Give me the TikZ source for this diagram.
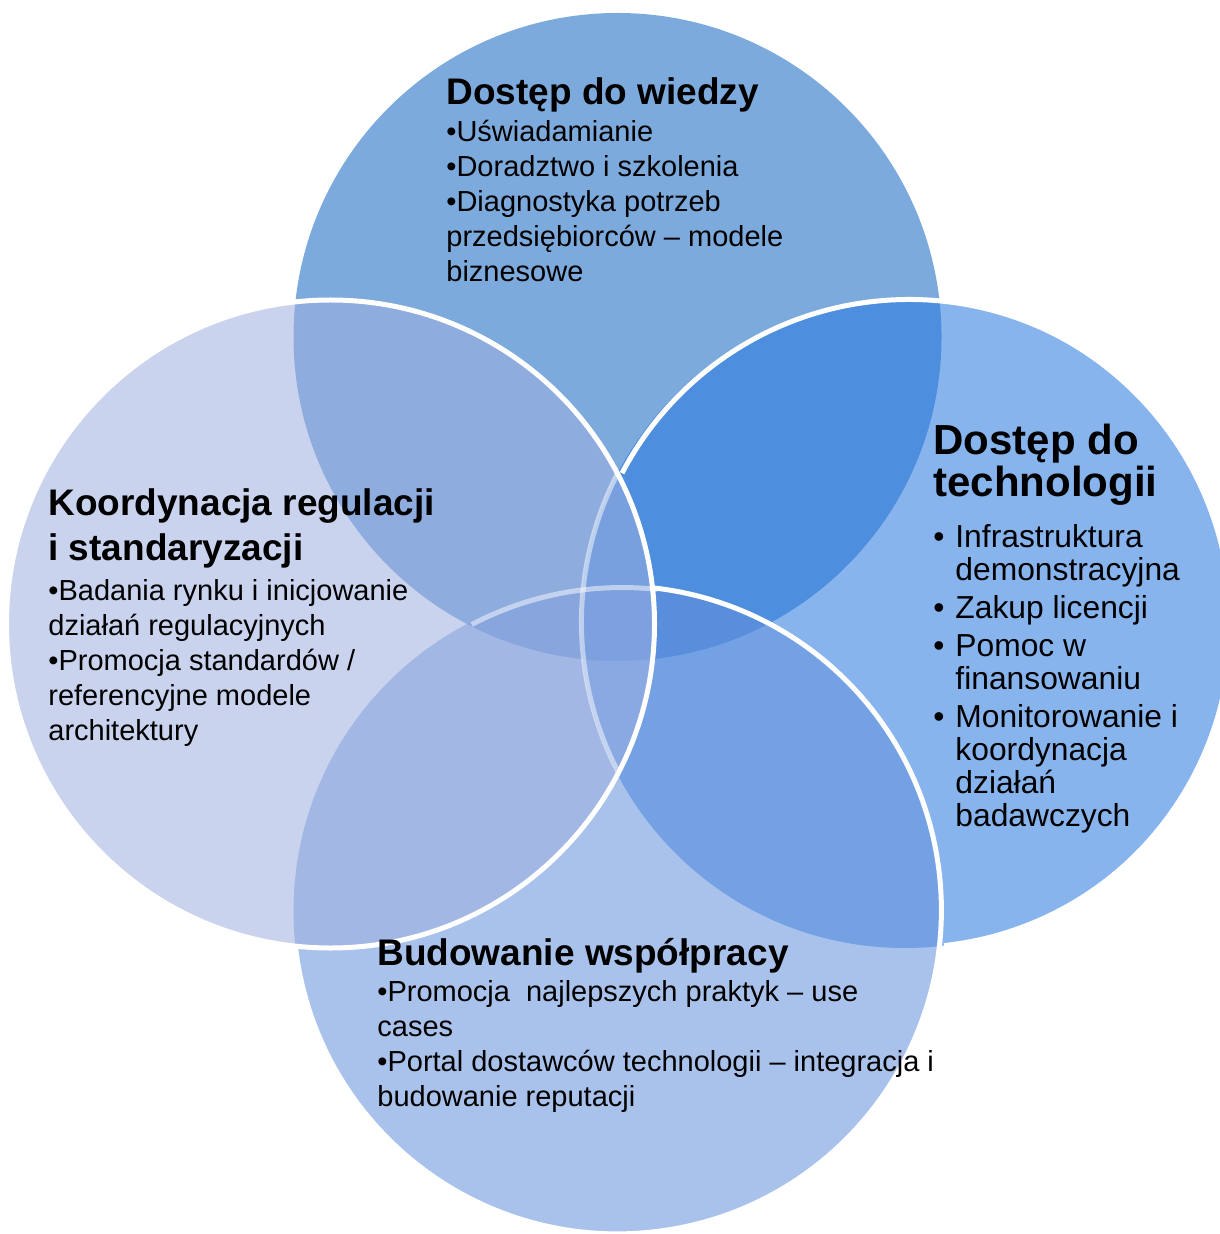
\documentclass[tikz,border=0pt]{standalone}
\usepackage{xcolor}
\usepackage{fontspec}
\setmainfont{Liberation Sans}
\usepackage{tikz}
\usetikzlibrary{calc}

\definecolor{wiedza}{RGB}{19,100,191}
\definecolor{techno}{RGB}{39,119,224}
\definecolor{wspolpraca}{RGB}{99,144,220}
\definecolor{regulacja}{RGB}{157,175,224}

\begin{document}
\begin{tikzpicture}[x=0.5pt,y=-0.5pt]
\tikzset{
    bubble/.style={circle, minimum size=324pt, inner sep=0pt, outer sep=0pt, fill opacity=0.55},
    rim/.style={draw=white, line width=2.5pt},
    faintrim/.style={draw=white, line width=2.5pt, draw opacity=0.5},
    head/.style={anchor=base west, inner sep=0pt, font=\bfseries\fontsize{18.5}{22.5}\selectfont},
    body/.style={anchor=base west, inner sep=0pt, font=\fontsize{14.5}{17.5}\selectfont}
}
\useasboundingbox (0,0) rectangle (1219,1234);

% Circles
\node[bubble, fill=wiedza]     (wiedza) at (617.5,337) {};
\node[bubble, fill=techno]     (techno) at (904.5,624) {};
\node[bubble, fill=wspolpraca] (wspol)  at (617.5,911) {};
\node[bubble, fill=regulacja]  (regul)  at (330.5,624) {};

% Outlines
\draw[faintrim] (techno.152.35) arc[start angle=152.35, end angle=207.65, radius=162pt];
\draw[rim] (techno.-83.8) arc[start angle=-83.8, end angle=152.35, radius=162pt];
\draw[faintrim] (wspol.83.8) arc[start angle=83.8, end angle=117.65, radius=162pt];
\draw[rim] (wspol.186.2) arc[start angle=186.2, end angle=443.8, radius=162pt];
\draw[rim] (regul.center) circle[radius=162pt];

% Texts
\node[head] (wiedzaHead) at (446,105) {Dostęp do wiedzy};
\node[body] (wiedzaBody) at (446,142) {\parbox[t]{300pt}{\raggedright
  •Uświadamianie\\
  •Doradztwo i szkolenia\\
  •Diagnostyka potrzeb\\
  przedsiębiorców – modele\\
  biznesowe}};

\node[head, font=\bfseries\fontsize{21}{19}\selectfont] (technoHead) at (933,455)
  {\parbox[t]{300pt}{\raggedright Dostęp do\\technologii}};
\node[body, font=\fontsize{15.9}{16.5}\selectfont] (technoBody) at (933,547) {\parbox[t]{300pt}{\raggedright
  \makebox[11pt][l]{•}Infrastruktura\\
  \hspace*{11pt}demonstracyjna\\[2.5pt]
  \makebox[11pt][l]{•}Zakup licencji\\[2.5pt]
  \makebox[11pt][l]{•}Pomoc w\\
  \hspace*{11pt}finansowaniu\\[2.5pt]
  \makebox[11pt][l]{•}Monitorowanie i\\
  \hspace*{11pt}koordynacja\\
  \hspace*{11pt}działań\\
  \hspace*{11pt}badawczych}};

\node[head] (regulHead) at (48,515)
  {\parbox[t]{300pt}{\raggedright Koordynacja regulacji\\i standaryzacji}};
\node[body] (regulBody) at (48,600) {\parbox[t]{300pt}{\raggedright
  •Badania rynku i inicjowanie\\
  działań regulacyjnych\\
  •Promocja standardów /\\
  referencyjne modele\\
  architektury}};

\node[head] (wspolHead) at (377,965) {Budowanie współpracy};
\node[body] (wspolBody) at (377,1001) {\parbox[t]{330pt}{\raggedright
  •Promocja~ najlepszych praktyk – use\\
  cases\\
  •Portal dostawców technologii – integracja i\\
  budowanie reputacji}};

\end{tikzpicture}
\end{document}
